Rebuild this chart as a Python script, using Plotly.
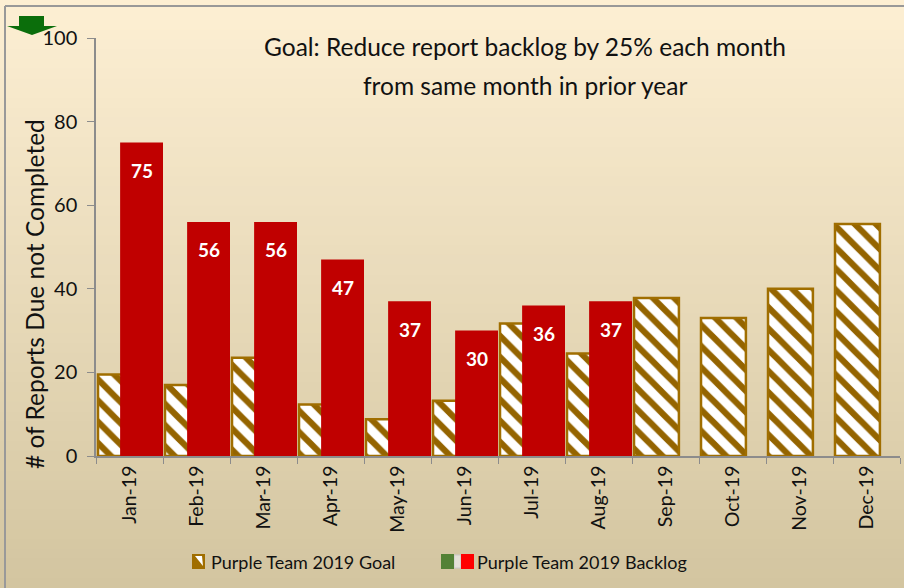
import plotly.graph_objects as go

months = ["Jan-19", "Feb-19", "Mar-19", "Apr-19", "May-19", "Jun-19",
          "Jul-19", "Aug-19", "Sep-19", "Oct-19", "Nov-19", "Dec-19"]
goal = [19.5, 17, 23.5, 12.3, 8.8, 13.2, 31.7, 24.5, 37.8, 33, 40, 55.5]
backlog = [75, 56, 56, 47, 37, 30, 36, 37, None, None, None, None]
y_ticks = [0, 20, 40, 60, 80, 100]

title_lines = ["Goal: Reduce report backlog by 25% each month",
               "from same month in prior year"]
y_title = "# of Reports Due not Completed"
goal_name = "Purple Team 2019 Goal"
backlog_name = "Purple Team 2019 Backlog"

BROWN = "#A06E00"
STRIPE = "#946400"
RED = "#C00000"
FONT = "Lato"
TXT = "#111111"

W, H = 904, 588
ML, MR, MT, MB = 96, 4, 38, 132
PW, PH = W - ML - MR, H - MT - MB


def px(x):
    return (x - ML) / PW


def py(y):
    return (MT + PH - y) / PH


fig = go.Figure()
fig.add_trace(go.Bar(
    x=months, y=goal, name=goal_name,
    offset=-0.47, width=0.67,
    marker=dict(color="white",
                line=dict(color=BROWN, width=2.5),
                pattern=dict(shape="\\", fgcolor=STRIPE, bgcolor="white",
                             size=15, solidity=0.42, fgopacity=1)),
))
fig.add_trace(go.Bar(
    x=months, y=backlog, name=backlog_name,
    offset=-0.14, width=0.64,
    marker=dict(color=RED, line=dict(width=0)),
))

annotations = []
for m, v in zip(months, backlog):
    if v is None:
        continue
    annotations.append(dict(x=m, y=v, text=f"<b>{v}</b>", showarrow=False,
                            xshift=12, yshift=-28,
                            font=dict(family=FONT, size=19, color="white")))
# title (two lines)
for line, yc in zip(title_lines, [47, 85]):
    annotations.append(dict(xref="paper", yref="paper", x=px(525), y=py(yc),
                            text=line, showarrow=False, xanchor="center",
                            yanchor="middle",
                            font=dict(family=FONT, size=24.5, color=TXT)))
# y-axis title
annotations.append(dict(xref="paper", yref="paper", x=px(34), y=py(294),
                        text=y_title, textangle=-90, showarrow=False,
                        xanchor="center", yanchor="middle",
                        font=dict(family=FONT, size=24.5, color=TXT)))
# legend texts
annotations.append(dict(xref="paper", yref="paper", x=px(209), y=py(562),
                        text=goal_name, showarrow=False, xanchor="left",
                        yanchor="middle", font=dict(family=FONT, size=18, color=TXT)))
annotations.append(dict(xref="paper", yref="paper", x=px(475), y=py(562),
                        text=backlog_name, showarrow=False, xanchor="left",
                        yanchor="middle", font=dict(family=FONT, size=18, color=TXT)))

# background gradient bands
shapes = []
top = (253, 239, 211)
bot = (211, 197, 160)
n = 60
for i in range(n):
    t = i / (n - 1)
    c = tuple(round(top[k] + (bot[k] - top[k]) * t) for k in range(3))
    y0p = H * i / n
    y1p = H * (i + 1) / n + 1
    shapes.append(dict(type="rect", xref="paper", yref="paper", layer="below",
                       x0=px(0), x1=px(W), y0=py(y1p), y1=py(y0p),
                       fillcolor=f"rgb{c}", line=dict(width=0)))

# outer border (left and top)
shapes.append(dict(type="line", xref="paper", yref="paper", x0=px(5), x1=px(5),
                   y0=py(6), y1=py(H), line=dict(color="#999999", width=2)))
shapes.append(dict(type="line", xref="paper", yref="paper", x0=px(5), x1=px(W),
                   y0=py(6), y1=py(6), line=dict(color="#999999", width=2)))
# green arrow decoration
arrow = (f"M {px(19)} {py(16)} L {px(44)} {py(16)} L {px(44)} {py(26)} "
         f"L {px(57)} {py(26)} L {px(32)} {py(35)} L {px(7)} {py(26)} "
         f"L {px(19)} {py(26)} Z")
shapes.append(dict(type="path", xref="paper", yref="paper", path=arrow,
                   fillcolor="#0B6E0B", line=dict(width=0)))

# legend icons
shapes.append(dict(type="rect", xref="paper", yref="paper",
                   x0=px(192), x1=px(205), y0=py(569), y1=py(554),
                   fillcolor=BROWN, line=dict(width=0)))
stripe = (f"M {px(195)} {py(556)} L {px(202)} {py(556)} L {px(203)} {py(566)} Z")
shapes.append(dict(type="path", xref="paper", yref="paper", path=stripe,
                   fillcolor="white", line=dict(width=0)))
shapes.append(dict(type="rect", xref="paper", yref="paper",
                   x0=px(454), x1=px(461), y0=py(568), y1=py(555),
                   fillcolor="#E4E0D6", line=dict(color="#C8C8C8", width=1)))
shapes.append(dict(type="rect", xref="paper", yref="paper",
                   x0=px(441), x1=px(454), y0=py(569), y1=py(554),
                   fillcolor="#538135", line=dict(width=0)))
shapes.append(dict(type="rect", xref="paper", yref="paper",
                   x0=px(461), x1=px(474), y0=py(569), y1=py(554),
                   fillcolor="#FF0000", line=dict(width=0)))

fig.update_layout(
    width=W, height=H,
    margin=dict(l=ML, r=MR, t=MT, b=MB),
    barmode="overlay",
    paper_bgcolor="rgba(0,0,0,0)",
    plot_bgcolor="rgba(0,0,0,0)",
    font=dict(family=FONT, color=TXT),
    showlegend=False,
    xaxis=dict(type="category", showline=True, linecolor="#8C8C8C", linewidth=1.5,
               ticks="outside", tickson="boundaries", ticklen=6,
               tickcolor="#8C8C8C", tickangle=-90,
               tickfont=dict(family=FONT, size=19.5, color=TXT),
               showgrid=False, range=[-0.5, 11.5]),
    yaxis=dict(range=[0, 100], tickvals=y_ticks, showline=True,
               linecolor="#8C8C8C", linewidth=1.5, ticks="outside", ticklen=7,
               tickcolor="#8C8C8C", showgrid=False, zeroline=False,
               ticklabelstandoff=6,
               tickfont=dict(family=FONT, size=20, color=TXT)),
    annotations=annotations,
    shapes=shapes,
)

fig.write_html("out.html",
               config={"displayModeBar": False},
               post_script="document.body.style.margin='0px';"
                           "document.body.style.overflow='hidden';")
